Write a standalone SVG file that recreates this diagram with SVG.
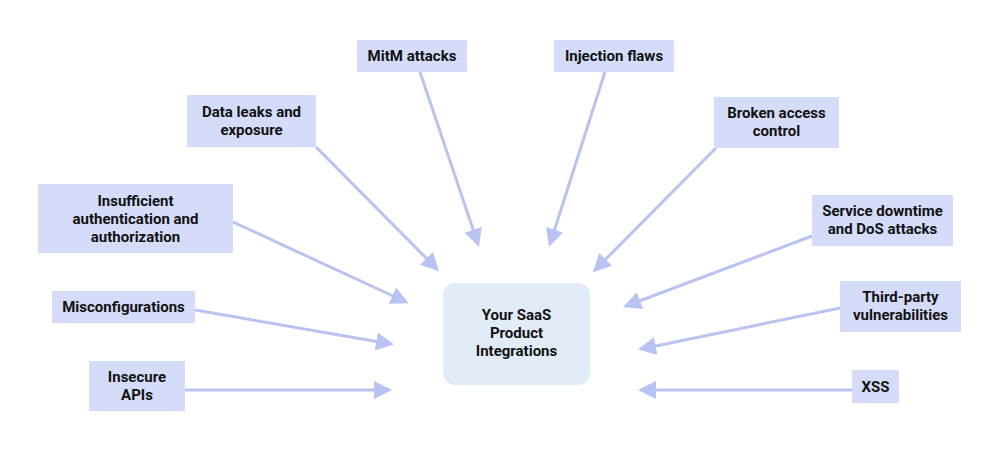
<svg xmlns="http://www.w3.org/2000/svg" width="1000" height="450" viewBox="0 0 1000 450">
<style>
.b{fill:#d5dcf9}
.t{font-family:Roboto,"Liberation Sans",sans-serif;font-weight:bold;font-size:15px;fill:#111;text-anchor:middle}
.c line{stroke:#b9c3f1;stroke-width:3;marker-end:url(#a)}
</style>
<defs><marker id="a" markerWidth="6" markerHeight="6" refX="5" refY="3" orient="auto" markerUnits="strokeWidth"><path d="M0,0L6,3L0,6z" fill="#b9c3f1"/></marker></defs>
<rect width="1000" height="450" fill="#fff"/>
<g class="c">
<line x1="420" y1="72" x2="478" y2="244"/>
<line x1="605" y1="72" x2="550" y2="244"/>
<line x1="316" y1="147" x2="437" y2="269"/>
<line x1="716" y1="148" x2="595" y2="270"/>
<line x1="233" y1="222" x2="406" y2="302"/>
<line x1="812" y1="236" x2="626" y2="306"/>
<line x1="195" y1="310" x2="391" y2="344"/>
<line x1="840" y1="308" x2="641" y2="349"/>
<line x1="185" y1="390" x2="389" y2="390"/>
<line x1="852" y1="390" x2="641" y2="390"/>
</g>
<g id="center"><rect x="443" y="283" width="147" height="102" rx="12" fill="#e2ecf8"/><text class="t" x="516.5" y="320">Your SaaS<tspan x="516.5" dy="18">Product</tspan><tspan x="516.5" dy="18">Integrations</tspan></text></g>
<g id="mitm"><rect class="b" x="357" y="40" width="110" height="32"/><text class="t" x="412" y="61">MitM attacks</text></g>
<g id="inj"><rect class="b" x="554" y="40" width="120" height="32"/><text class="t" x="614" y="61">Injection flaws</text></g>
<g id="leaks"><rect class="b" x="187" y="95" width="129" height="52"/><text class="t" x="251.5" y="117">Data leaks and<tspan x="251.5" dy="18">exposure</tspan></text></g>
<g id="bac"><rect class="b" x="714" y="97" width="125" height="51"/><text class="t" x="776.5" y="118">Broken access<tspan x="776.5" dy="18">control</tspan></text></g>
<g id="auth"><rect class="b" x="38" y="184" width="195" height="69"/><text class="t" x="135.5" y="206">Insufficient<tspan x="135.5" dy="18">authentication and</tspan><tspan x="135.5" dy="18">authorization</tspan></text></g>
<g id="dos"><rect class="b" x="812" y="195" width="141" height="51"/><text class="t" x="882.5" y="216">Service downtime<tspan x="882.5" dy="18">and DoS attacks</tspan></text></g>
<g id="misc"><rect class="b" x="52" y="291" width="143" height="32"/><text class="t" x="123.5" y="312">Misconfigurations</text></g>
<g id="third"><rect class="b" x="840" y="281" width="121" height="51"/><text class="t" x="900.5" y="302">Third-party<tspan x="900.5" dy="18">vulnerabilities</tspan></text></g>
<g id="apis"><rect class="b" x="89" y="361" width="96" height="50"/><text class="t" x="137" y="382">Insecure<tspan x="137" dy="18">APIs</tspan></text></g>
<g id="xss"><rect class="b" x="852" y="370" width="47" height="33"/><text class="t" x="875.5" y="392">XSS</text></g>
</svg>
